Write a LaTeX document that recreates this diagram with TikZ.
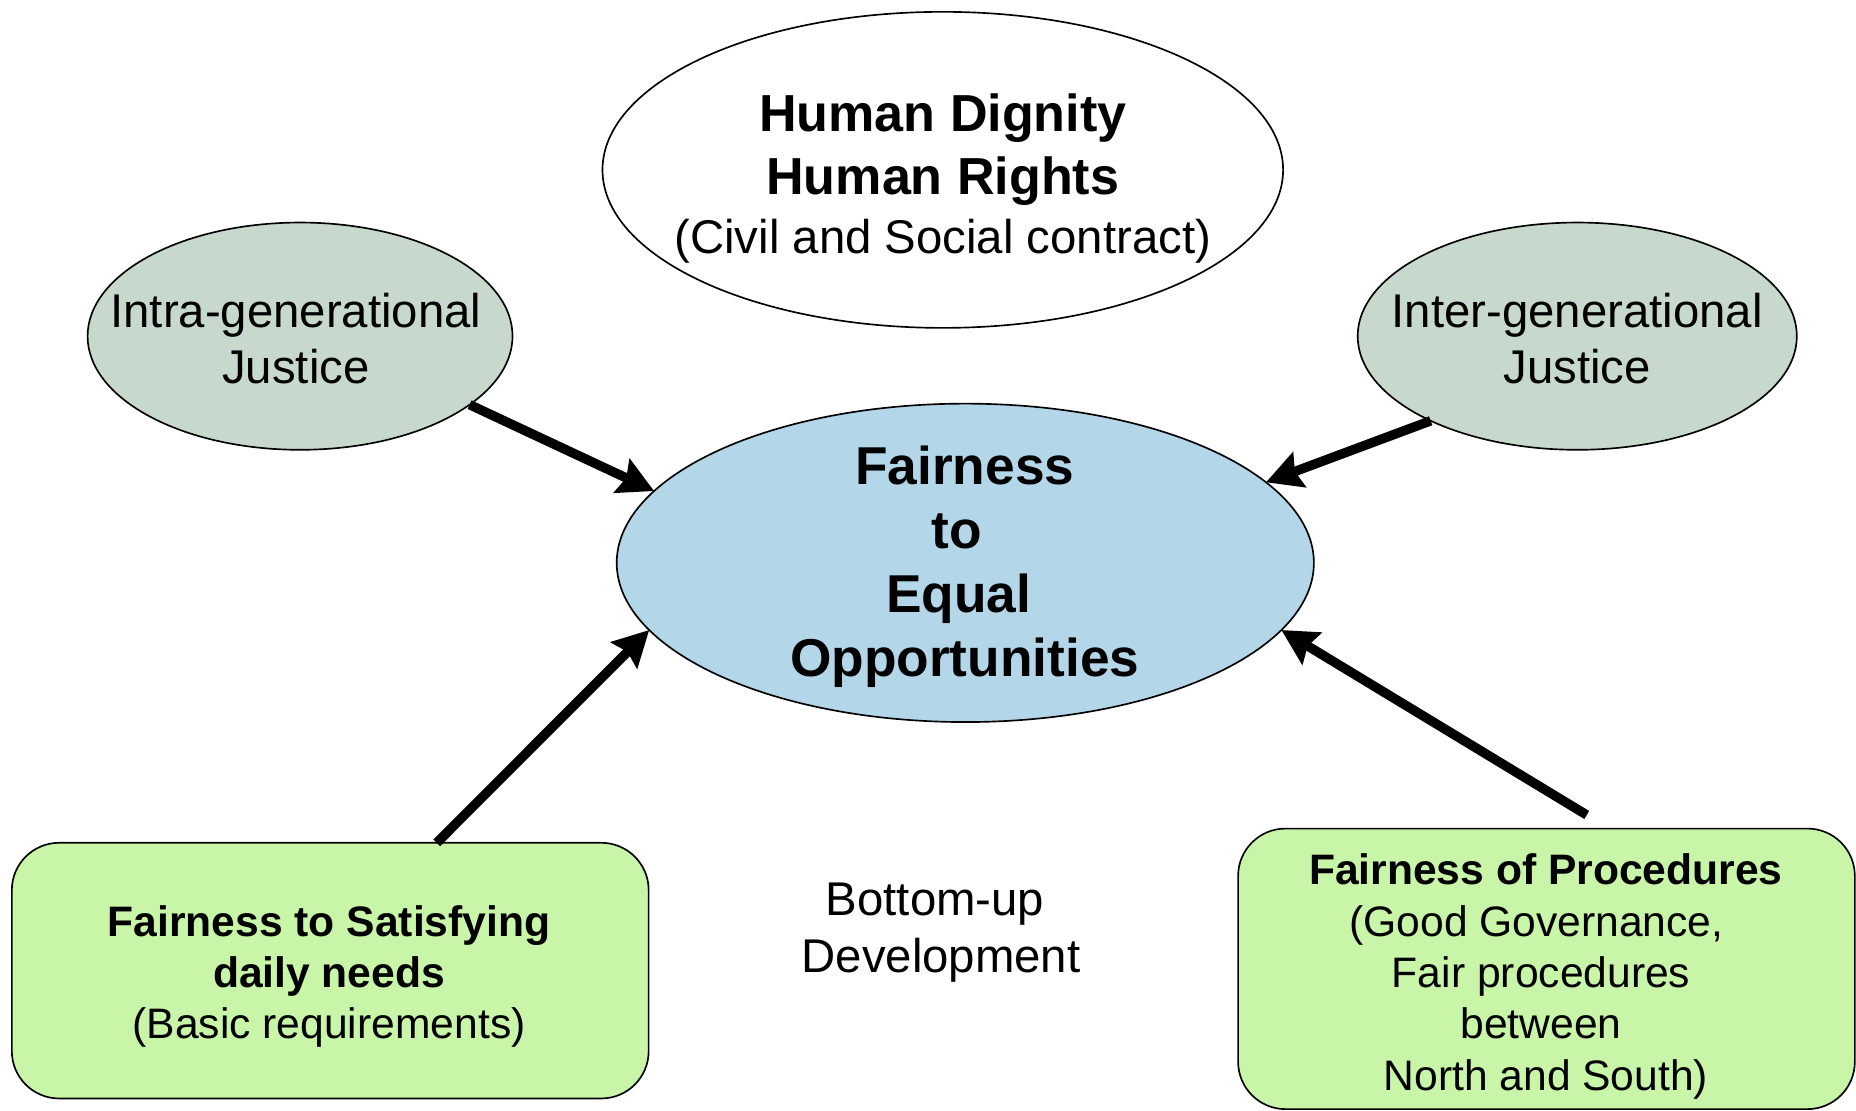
\documentclass[tikz,border=0pt]{standalone}
\usepackage{fontspec}
\setmainfont{Liberation Sans}
\usetikzlibrary{shapes.geometric,arrows.meta}
\definecolor{sage}{RGB}{199,217,205}
\definecolor{skyb}{RGB}{179,214,233}
\definecolor{mint}{RGB}{200,245,168}
\begin{document}
\begin{tikzpicture}[x=0.5pt,y=-0.5pt,
  oval/.style={ellipse,draw=black,line width=0.7pt,inner sep=0pt,outer sep=0pt},
  card/.style={rectangle,rounded corners=20pt,draw=black,line width=0.7pt,fill=mint,inner sep=0pt,outer sep=0pt},
  lbl/.style={align=center,inner sep=0pt},
  flow/.style={line width=4pt,-{Stealth[length=15pt,width=15.5pt,inset=2pt]}}
]
\useasboundingbox (0,0) rectangle (1568,938);
% shapes
\node[oval,fill=white,minimum width=287.5pt,minimum height=133.5pt] (top) at (796.5,143.5) {};
\node[oval,fill=sage,minimum width=179.5pt,minimum height=96pt] (lj) at (253.5,284) {};
\node[oval,fill=sage,minimum width=185.5pt,minimum height=96pt] (rj) at (1332.5,284) {};
\node[oval,fill=skyb,minimum width=294.5pt,minimum height=134.5pt] (ctr) at (815.5,475.5) {};
\node[card,minimum width=269pt,minimum height=108pt] (lb) at (279,820) {};
\node[card,minimum width=260.5pt,minimum height=118.5pt] (rb) at (1306.5,818.5) {};
% texts
\node[lbl,font=\fontsize{22}{26.5}\selectfont] (toptext) at (796.5,151) {\bfseries Human Dignity\\
  \bfseries Human Rights\\[-1.5pt]
  \fontsize{20}{25}\selectfont (Civil and Social contract)};
\node[lbl,font=\fontsize{20}{24}\selectfont] (ljtext) at (250,286) {Intra-generational\\Justice};
\node[lbl,font=\fontsize{20}{24}\selectfont] (rjtext) at (1332.5,286) {Inter-generational\\Justice};
\node[lbl,font=\fontsize{22.5}{27}\selectfont\bfseries] (ctrtext) at (815,479) {Fairness\\to\makebox[7pt]{}\\Equal\makebox[5pt]{}\\Opportunities};
\node[lbl,font=\fontsize{18}{21.5}\selectfont] (lbtext) at (278,825) {\bfseries Fairness to Satisfying\\
  \bfseries daily needs\\
  (Basic requirements)};
\node[lbl,font=\fontsize{18}{21.7}\selectfont] (rbtext) at (1306,825) {\bfseries Fairness of Procedures\\
  (Good Governance,\makebox[8pt]{}\\
  Fair procedures\makebox[4pt]{}\\
  between\makebox[4pt]{}\\
  North and South)};
\node[lbl,font=\fontsize{20}{24}\selectfont] (bottomup) at (795,788) {Bottom-up\makebox[5pt]{}\\Development};
% connectors
\draw[flow] (lj.-22.3) -- (ctr.167.6);
\draw[flow] (rj.-150.1) -- (ctr.15.4);
\draw[flow] ([xshift=45pt]lb.north) -- (ctr.192.2);
\draw[flow] ([shift={(17pt,5.75pt)}]rb.north) -- (ctr.-12.95);
\end{tikzpicture}
\end{document}
